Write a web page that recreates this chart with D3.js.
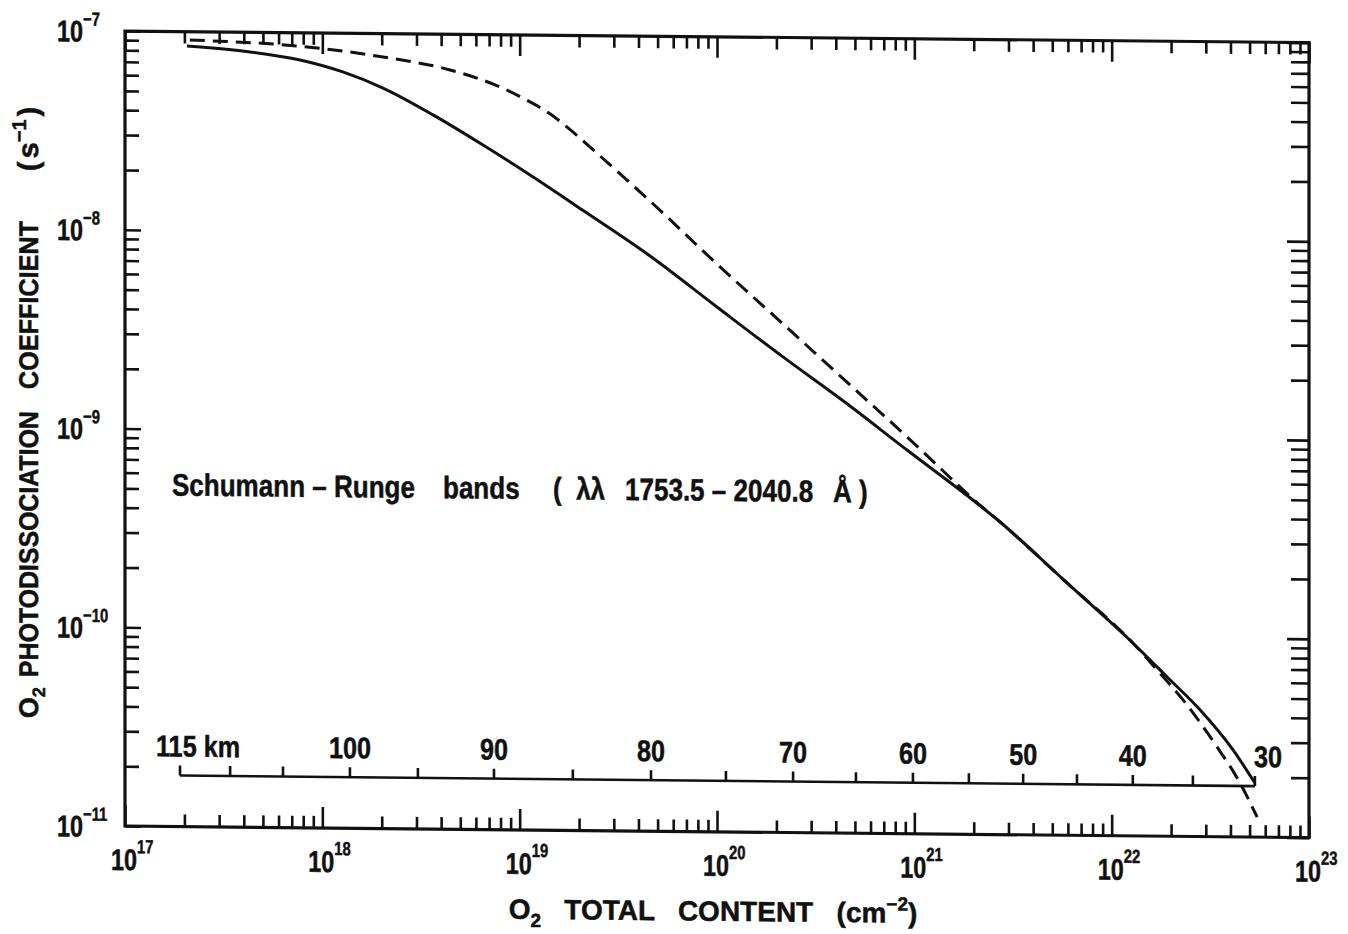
<!DOCTYPE html>
<html>
<head>
<meta charset="utf-8">
<script src="https://cdn.jsdelivr.net/npm/d3@7"></script>
<style>
  html, body { margin: 0; padding: 0; background: #fff; }
  svg { display: block; }
  text { font-family: "Liberation Sans", Arial, sans-serif; font-weight: bold; fill: #111; stroke: #111; stroke-width: 0.5; white-space: pre; }
</style>
</head>
<body>
<svg id="chart" width="1348" height="934"></svg>
<script>
// O2 total column content (cm^-2) and photodissociation coefficient (s^-1)
// Solid curve
const solidColumn = [2.06e17, 4.30e17, 7.71e17, 1.27e18, 2.03e18, 3.64e18, 6.52e18, 1.17e19, 2.09e19, 4.58e19,
  1.00e20, 2.16e20, 4.72e20, 9.18e20, 1.98e21, 2.72e21, 5.94e21, 1.28e22, 1.91e22, 2.81e22, 4.12e22, 5.32e22];
const solidRate = [8.47e-8, 7.96e-8, 7.29e-8, 6.38e-8, 5.32e-8, 3.92e-8, 2.78e-8, 1.93e-8, 1.32e-8, 7.83e-9,
  4.37e-9, 2.47e-9, 1.41e-9, 8.52e-10, 4.81e-10, 3.74e-10, 1.86e-10, 9.35e-11, 6.33e-11, 4.33e-11, 2.74e-11, 1.87e-11];

// Dashed curve
const dashedColumn = [2.13e17, 9.40e17, 2.03e18, 4.44e18, 7.94e18, 1.06e19, 1.43e19, 1.84e19, 2.36e19, 4.58e19,
  1.00e20, 2.16e20, 4.72e20, 1.03e21, 1.40e21, 1.98e21, 2.72e21, 5.94e21, 1.28e22, 1.70e22, 2.30e22, 3.42e22,
  4.47e22, 5.46e22];
const dashedRate = [9.08e-8, 8.40e-8, 7.62e-8, 6.61e-8, 5.46e-8, 4.76e-8, 4.01e-8, 3.30e-8, 2.66e-8, 1.48e-8,
  7.19e-9, 3.62e-9, 1.80e-9, 8.93e-10, 6.71e-10, 4.87e-10, 3.74e-10, 1.86e-10, 9.35e-11, 6.85e-11, 4.86e-11, 2.83e-11,
  1.87e-11, 1.26e-11];

// Altitude scale: column content reached at each altitude
const altitudeKm = [115, 110, 105, 100, 95, 90, 85, 80, 75, 70, 65, 60, 55, 50, 45, 40, 35, 30];
const altitudeColumn = [1.90e17, 3.41e17, 6.32e17, 1.38e18, 3.05e18, 7.41e18, 1.86e19, 4.63e19, 1.11e20,
  2.43e20, 5.06e20, 9.84e20, 1.89e21, 3.56e21, 6.67e21, 1.28e22, 2.58e22, 5.32e22];
const altitudeLabels = ["115 km", "100", "90", "80", "70", "60", "50", "40", "30"];
const altitudeLabelKm = [115, 100, 90, 80, 70, 60, 50, 40, 30];

// Axis decades (exponents)
const xDecades = [17, 18, 19, 20, 21, 22, 23];
const yDecades = [-11, -10, -9, -8, -7];

const annotation = ["Schumann – Runge", "bands", "(  λλ", "1753.5 – 2040.8", "Å )"];

// ---------------------------------------------------------------------------
const box = { left: 125, right: 1309, top: 31, bottom: 826 };
const ink = "#111";

const x = d3.scaleLog().domain([1e17, 1e23]).range([box.left, box.right]);
const y = d3.scaleLog().domain([1e-11, 1e-7]).range([box.bottom, box.top]);

const svg = d3.select("#chart");
svg.append("rect").attr("width", 1348).attr("height", 934).attr("fill", "#fff");

// whole figure is drawn slightly skewed, as on the printed page
const g = svg.append("g").attr("transform", "matrix(1,0.0098,0,1,0,-1.2)");

// minor tick values
const xMinor = [];
xDecades.slice(0, -1).forEach(d => { for (let k = 2; k <= 9; k++) xMinor.push(k * Math.pow(10, d)); });
const yMinor = [];
yDecades.slice(0, -1).forEach(d => { for (let k = 2; k <= 9; k++) yMinor.push(k * Math.pow(10, d)); });
const xMajor = xDecades.map(d => Math.pow(10, d));
const yMajor = yDecades.map(d => Math.pow(10, d));

function ticks(axisFn, scale, values, len, transform) {
  g.append("g")
    .attr("transform", transform)
    .call(axisFn(scale).tickValues(values).tickSizeInner(-len).tickSizeOuter(0).tickFormat(""))
    .call(s => s.select(".domain").remove())
    .call(s => s.selectAll("line").attr("stroke", ink).attr("stroke-width", 2.6));
}
ticks(d3.axisBottom, x, xMajor, 21, `translate(0,${box.bottom})`);
ticks(d3.axisBottom, x, xMinor, 12, `translate(0,${box.bottom})`);
ticks(d3.axisTop, x, xMajor, 21, `translate(0,${box.top})`);
ticks(d3.axisTop, x, xMinor, 12, `translate(0,${box.top})`);
ticks(d3.axisLeft, y, yMajor, 16, `translate(${box.left},0)`);
ticks(d3.axisLeft, y, yMinor, 14, `translate(${box.left},0)`);
ticks(d3.axisRight, y, yMajor, 22, `translate(${box.right},0)`);
ticks(d3.axisRight, y, yMinor, 18, `translate(${box.right},0)`);

// frame
g.append("rect")
  .attr("x", box.left).attr("y", box.top)
  .attr("width", box.right - box.left).attr("height", box.bottom - box.top)
  .attr("fill", "none").attr("stroke", ink).attr("stroke-width", 3.2);

// helper: condensed lettering via horizontal scale
function label(parent, px, py, sx, size, anchor) {
  return parent.append("text")
    .attr("transform", `translate(${px},${py}) scale(${sx},1)`)
    .attr("text-anchor", anchor)
    .attr("font-size", size);
}
function power(t, base, exp, supSize, rise) {
  t.append("tspan").text(base);
  t.append("tspan").attr("font-size", supSize).attr("dy", -rise).text(exp);
}

// x tick labels
xDecades.forEach(d => {
  const t = label(g, x(Math.pow(10, d)) - 14, box.bottom + 44, 0.78, 30, "start");
  power(t, "10", String(d), 19, 17);
});
// y tick labels
yDecades.forEach(d => {
  const t = label(g, 57, y(Math.pow(10, d)) + 11, 0.78, 30, "start");
  power(t, "10", "−" + Math.abs(d), 19, 16);
});

// curves
const line = d3.line().x(d => x(d[0])).y(d => y(d[1])).curve(d3.curveMonotoneX);
const solid = solidColumn.map((c, i) => [c, solidRate[i]]);
const dashed = dashedColumn.map((c, i) => [c, dashedRate[i]]);

g.append("path").datum(dashed).attr("d", line)
  .attr("fill", "none").attr("stroke", ink).attr("stroke-width", 3)
  .attr("stroke-dasharray", "15 8");
g.append("path").datum(solid).attr("d", line)
  .attr("fill", "none").attr("stroke", ink).attr("stroke-width", 3);

// altitude scale
const altY = 775;
const alt = g.append("g");
alt.append("line")
  .attr("x1", x(altitudeColumn[0])).attr("x2", x(altitudeColumn[altitudeColumn.length - 1]))
  .attr("y1", altY).attr("y2", altY)
  .attr("stroke", ink).attr("stroke-width", 2.6);
alt.selectAll("line.tk").data(altitudeColumn).join("line").attr("class", "tk")
  .attr("x1", d => x(d)).attr("x2", d => x(d))
  .attr("y1", altY).attr("y2", altY - 10)
  .attr("stroke", ink).attr("stroke-width", 2.6);
altitudeLabelKm.forEach((km, i) => {
  const cx = x(altitudeColumn[altitudeKm.indexOf(km)]);
  let px = cx, anchor = "middle";
  if (i === 0) { px = cx - 24; anchor = "start"; }
  if (i === altitudeLabelKm.length - 1) px = cx + 13;
  label(alt, px, altY - 19, 0.84, 30, anchor).text(altitudeLabels[i]);
});

// annotation, word groups set apart as in the figure
const annX = [172, 443, 553, 625, 833];
annotation.forEach((s, i) => {
  label(g, annX[i], 495, 0.84, 31, "start").text(s);
});

// x axis title
const xt = label(g, 713, 915, 1.0, 28, "middle");
xt.append("tspan").text("O");
xt.append("tspan").attr("font-size", 19).attr("dy", 8).text("2");
xt.append("tspan").attr("dy", -8).text("   TOTAL   CONTENT   (cm");
xt.append("tspan").attr("font-size", 19).attr("dy", -12).text("−2");
xt.append("tspan").attr("dy", 12).text(")");

// y axis title, laid out word by word along the axis
const ytx = 38;
function vword(yStart, len) {
  const t = g.append("text")
    .attr("transform", `translate(${ytx},${yStart}) rotate(-90)`)
    .attr("font-size", 27);
  if (len) t.attr("textLength", len).attr("lengthAdjust", "spacingAndGlyphs");
  return t;
}
const o2 = vword(719);
o2.append("tspan").text("O");
o2.append("tspan").attr("font-size", 18).attr("dy", 7).text("2");
vword(678, 266).text("PHOTODISSOCIATION");
vword(390, 168).text("COEFFICIENT");
const unit = vword(172).attr("font-size", 29);
unit.append("tspan").text("(");
unit.append("tspan").attr("dx", 3).text("s");
unit.append("tspan").attr("font-size", 20).attr("dy", -12).text("−1");
unit.append("tspan").attr("dx", 3).attr("dy", 12).text(")");
</script>
</body>
</html>
